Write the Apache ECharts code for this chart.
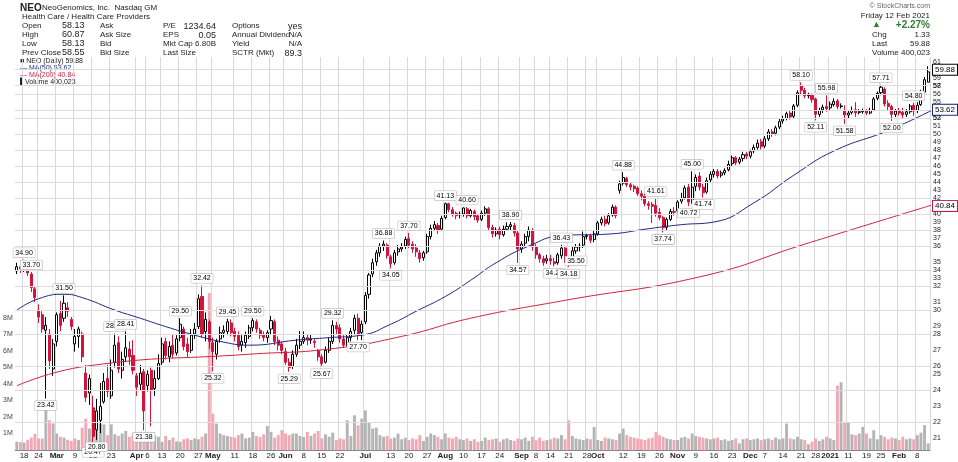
<!DOCTYPE html>
<html>
<head>
<meta charset="utf-8">
<script src="https://cdn.jsdelivr.net/npm/echarts@6/dist/echarts.min.js"></script>
<style>
  html, body { margin: 0; padding: 0; background: #fff; }
  #chart { width: 958px; height: 462px; }
</style>
</head>
<body>
<div id="chart"></div>
<script>
// daily candles [open, close, low, high], 13 Feb 2020 .. 12 Feb 2021
const candles = [
  [33.8,34.2,33.5,34.6],[34.2,34.0,33.6,34.5],[34.0,34.4,33.7,34.9],[34.4,33.6,33.3,34.6],[33.5,32.2,31.8,33.7],
  [32.1,31.3,30.9,32.3],[30.2,29.6,29.1,30.7],[29.8,28.6,28.3,30.1],[28.5,28.9,23.42,29.6],[28.2,26.1,25.5,28.6],[25.5,27.4,25.0,27.8],
  [27.6,29.8,27.2,30.0],[29.9,28.9,28.4,31.0],[29.5,30.8,29.2,31.5],[30.4,30.1,29.6,30.9],[29.4,28.8,28.5,29.6],
  [27.4,28.0,26.8,28.6],[28.0,28.6,27.1,28.8],[28.2,26.4,26.0,28.4],[25.2,23.5,23.2,25.8],[23.8,24.8,23.0,25.1],
  [22.8,21.0,20.47,23.6],[21.4,22.6,20.8,23.4],[22.0,22.9,21.2,24.5],[23.2,24.6,23.08,25.2],[24.8,23.9,23.5,25.8],
  [23.6,25.4,23.4,26.2],[26.0,27.3,25.6,28.23],[27.5,25.5,25.2,28.0],[25.4,26.2,24.8,26.8],[26.4,27.1,26.0,28.41],
  [27.0,26.4,25.8,27.6],[26.5,25.4,25.1,27.7],[25.0,24.2,23.6,25.2],[24.4,25.2,24.0,25.8],[25.3,22.6,21.38,25.5],
  [24.3,25.1,23.9,25.4],[25.4,24.0,21.62,25.6],[24.1,24.8,23.6,25.4],[24.8,25.9,24.7,26.6],
  [26.0,27.4,25.8,27.9],[27.6,26.5,26.2,27.9],[26.4,27.2,26.0,27.6],[27.3,26.6,26.3,28.2],[26.7,27.8,26.5,28.1],
  [27.9,29.0,27.6,29.50],[28.6,27.2,26.9,28.8],[27.4,26.8,26.4,27.9],[26.9,28.1,26.7,28.6],[28.2,28.6,27.8,29.1],
  [28.8,31.2,28.6,31.6],[31.4,28.2,27.9,32.42],[28.4,29.4,27.6,30.0],[29.2,27.6,27.0,29.4],[27.5,26.8,25.32,27.9],
  [26.6,27.6,26.2,27.8],[27.8,28.3,27.5,28.8],[28.3,28.5,27.9,28.9],[28.4,29.2,28.1,29.45],[29.1,28.3,28.0,29.4],
  [28.4,28.0,27.6,28.7],[28.1,27.2,26.9,28.4],[27.3,27.6,26.8,28.1],[27.5,28.1,27.1,28.4],[28.0,28.7,27.8,28.94],
  [28.7,29.3,28.4,29.5],[29.2,28.6,28.3,29.4],[28.5,28.1,27.8,28.7],[28.1,27.9,27.6,28.4],[27.9,28.3,27.5,28.5],
  [28.6,29.3,28.2,29.7],[29.2,27.6,27.3,29.4],[27.7,27.3,26.9,28.0],[27.4,26.9,26.6,27.6],
  [26.8,26.0,25.8,27.1],[26.0,25.6,25.29,26.3],[25.7,26.6,25.5,26.9],[26.6,27.3,26.4,27.8],[27.3,27.6,27.0,28.44],
  [27.6,27.9,27.4,28.4],[27.9,27.7,27.3,28.2],[27.7,27.8,27.4,28.1],[27.6,27.5,27.1,27.8],[26.9,26.4,26.1,27.0],
  [26.4,25.9,25.67,26.6],[26.0,26.9,25.9,27.2],[26.9,27.6,26.7,27.9],[27.6,28.9,27.4,29.32],[28.9,28.6,28.2,29.2],
  [28.7,27.8,27.5,29.0],[27.8,27.3,27.1,28.1],[27.3,27.9,27.2,28.2],[27.9,28.4,27.6,28.7],[28.5,29.5,28.2,29.8],
  [29.5,28.2,27.7,29.9],[28.3,29.0,27.71,29.3],
  [29.2,31.5,29.0,31.8],[31.6,33.4,31.2,33.6],
  [33.5,34.6,33.2,35.0],[34.7,35.6,34.3,35.9],[35.6,36.3,35.2,36.6],[36.3,36.5,35.8,36.88],[36.4,35.3,35.0,36.6],
  [35.2,34.5,34.05,35.4],[34.6,35.6,34.4,35.9],[35.7,36.0,35.3,36.4],[36.0,36.2,35.7,36.6],[36.3,37.0,36.0,37.3],
  [37.1,36.4,36.1,37.70],[36.5,36.0,35.6,36.8],[36.1,35.7,35.2,36.5],[35.6,35.0,34.6,35.9],[35.1,35.6,34.8,35.8],
  [35.7,37.3,35.5,37.6],[37.3,38.2,37.0,38.6],[38.2,38.6,37.9,39.0],[38.5,38.0,37.6,38.8],[38.1,39.3,37.9,39.6],
  [39.4,41.0,39.2,41.13],[41.0,40.3,40.0,41.1],[40.3,39.8,39.5,40.6],[39.9,39.6,39.2,40.1],[39.7,39.8,39.3,40.1],
  [39.8,40.5,39.5,40.56],[40.4,39.6,39.3,40.6],[39.6,40.2,39.4,40.4],[40.1,39.5,39.1,40.3],[39.6,39.1,38.8,39.8],
  [39.2,39.9,39.0,40.2],[39.9,40.4,39.6,40.7],[40.4,38.3,37.9,40.6],[38.3,37.6,37.2,38.6],[37.6,38.0,37.3,38.3],
  [38.1,37.5,37.0,38.4],[37.5,38.1,37.3,38.5],[38.1,38.4,37.9,38.85],[38.4,38.6,38.0,38.9],[38.5,37.7,37.3,38.8],
  [37.7,36.0,34.57,37.9],[36.0,36.5,35.6,36.8],[36.6,37.3,36.2,37.6],[37.3,38.0,36.8,38.4],
  [38.0,36.2,35.8,38.2],[36.2,35.4,35.0,36.5],[35.4,35.0,34.6,35.6],[35.0,34.6,34.3,35.3],
  [34.8,35.0,34.5,35.4],[35.0,34.8,34.4,35.4],[34.7,34.5,34.25,35.1],[34.6,35.4,34.4,35.6],[35.3,36.1,35.0,36.43],
  [36.1,35.0,34.6,36.3],[35.0,34.6,34.18,35.2],[34.6,35.8,34.4,36.2],[35.8,36.2,35.5,36.5],[36.2,36.3,35.74,36.6],
  [36.4,37.3,36.1,37.85],[37.3,37.4,37.0,37.6],[37.4,36.9,36.6,37.6],[37.0,37.6,36.7,37.9],[37.6,38.8,37.4,39.0],
  [38.8,39.2,38.5,39.5],[39.2,38.7,38.4,39.6],[38.8,39.6,38.6,39.9],[39.7,40.6,39.5,40.9],[40.6,39.6,39.3,40.8],
  [42.6,43.4,42.2,43.8],[43.5,44.2,43.2,44.88],[44.1,43.3,43.0,44.3],[43.3,43.0,42.6,43.6],[43.1,42.8,42.4,43.3],
  [42.9,42.2,41.9,43.1],[42.2,41.9,41.4,42.6],[41.9,41.0,40.7,42.2],[41.0,40.8,40.3,41.3],[40.9,40.7,38.79,41.2],
  [40.8,39.9,39.5,41.61],[40.0,39.4,39.1,40.5],[39.4,38.3,37.74,39.6],[38.3,39.2,38.0,39.4],[39.2,40.1,39.0,40.4],
  [40.1,40.0,39.6,40.6],[40.2,41.2,40.0,41.4],[41.3,41.6,41.0,42.3],[41.7,42.9,41.5,43.2],[43.0,41.2,40.72,43.4],
  [41.3,43.0,41.0,45.0],[43.1,44.2,42.5,44.6],[44.4,43.0,42.6,44.9],[43.0,42.3,41.74,43.4],[42.4,43.8,42.2,44.2],
  [43.9,44.6,43.6,45.0],[44.6,45.0,44.2,45.3],[45.0,44.4,44.1,45.3],[44.5,44.8,44.2,45.1],[44.8,45.1,44.5,45.4],
  [45.2,45.9,45.0,46.4],[46.0,46.8,45.7,47.1],[46.8,46.1,45.8,47.0],[46.2,46.6,45.9,46.9],
  [46.7,47.2,46.3,47.6],[47.3,47.0,46.6,47.6],[47.0,47.6,46.7,47.9],[47.7,48.2,47.4,48.6],[48.2,48.8,47.9,49.3],
  [49.0,48.3,47.9,49.4],[48.4,49.4,48.1,49.8],[49.4,50.4,49.1,50.8],[50.4,50.1,49.7,50.8],[50.2,51.0,49.9,51.3],
  [51.1,51.9,50.8,52.3],[52.0,52.3,51.6,52.8],[52.4,53.1,52.1,53.4],[53.2,52.6,52.2,53.6],[52.7,54.3,52.4,54.6],
  [54.4,56.4,54.1,56.8],[57.6,56.8,56.0,58.10],[56.8,55.9,55.5,57.2],[55.9,56.0,55.5,56.4],
  [56.0,55.3,54.8,56.3],[55.4,53.0,52.11,55.6],[53.0,53.6,52.6,54.0],[53.7,54.1,53.2,54.5],
  [54.2,53.9,53.4,55.98],[54.0,54.6,53.7,55.0],[54.5,55.0,54.2,55.5],[55.1,54.2,53.8,55.4],[54.2,54.3,53.9,54.7],
  [53.5,52.9,51.58,54.4],[52.9,53.2,52.4,53.6],[53.3,53.6,53.0,54.2],[53.7,53.2,52.6,54.9],[53.3,53.4,53.0,53.8],
  [53.4,53.6,53.1,53.9],[53.6,53.2,52.9,53.8],[53.2,53.6,53.0,54.0],[53.7,55.4,53.5,55.7],
  [55.5,56.3,55.2,56.6],[56.4,57.3,56.0,57.71],[57.0,54.6,54.2,57.3],[54.7,54.2,53.6,55.2],[54.2,53.0,52.00,54.5],
  [53.0,53.5,52.6,53.8],[53.6,53.2,52.8,54.0],[53.3,52.9,52.4,54.00],[53.0,53.4,52.6,53.8],[53.4,54.3,53.1,54.6],
  [54.4,53.5,52.8,54.8],[53.6,54.4,53.2,54.9],[54.5,56.5,54.3,56.9],[56.5,58.55,56.2,59.0],[58.13,59.88,58.13,60.87]
];

// daily volume, thousands of shares
const volumes = [
  500,480,450,620,750,980,700,700,2600,1800,1600,
  1000,800,750,620,550, 700,600,1350,1900,1300, 2400,1700,1600,1550,900,
  1550,950,850,1000,1150, 800,900,600,850,650, 700,900,880,800,
  500,850,600,750,520, 500,650,700,600,700, 650,800,1000,9500,2200,
  1600,1000,900,850,800, 750,900,1000,700,750, 1100,850,800,950,1450, 1100,750,900,1200,
  1000,900,1000,1000,850, 780,1100,850,1000,1150, 700,950,800,1050,600,
  700,650,1800,850,2100, 1500,1900, 2400,1700,
  1300,1350,900,800,850, 700,750,1000,650,750, 600,700,650,900,550, 800,1000,900,800,650,
  1000,750,700,800,650, 600,700,550,650,500, 550,750,600,650,700, 500,650,700,600,550,
  700,650,750,550, 800,600,750,550, 600,650,750,700,900, 650,1800,850,700,650,
  600,700,650,1400,600, 550,750,700,650,600, 1000,1300,900,800,750, 700,650,600,700,750,
  1100,900,800,700,650, 600,600,750,800,700, 1000,850,800,750,700, 650,700,750,600,650,
  550,600,700,400, 650,700,600,650,700, 600,650,700,600,750, 650,700,1600,700,650,
  800,650,600,350, 500,700,550,650,
  800,700,600,3900,4100, 1700,1700,950,900,1000, 1400,1000,700,1200, 650,900,800,650,750,
  700,600,800,650,700, 650,900,1050,1500,400
];

// moving averages: [day index, price]
const ma50Pts = [[0,30.2],[6,31.2],[13,31.6],[18,31.3],[27,30.2],[34,29.5],[41,28.8],[49,28.1],[56,27.6],
  [64,27.3],[77,27.7],[86,27.9],[95,28.1],[103,29.0],[110,30.1],[118,31.4],[125,32.9],[132,34.6],[141,36.3],
  [150,37.4],[164,37.6],[173,38.1],[183,38.6],[192,38.9],[203,41.1],[214,44.5],[225,47.7],[240,50.6],[252,53.62]];
const ma200Pts = [[0,24.3],[19,25.7],[64,26.6],[86,27.0],[106,28.0],[125,29.5],[150,31.0],[189,33.3],[217,36.5],[252,40.84]];

// annotated highs/lows near a day: [day index, 'h' | 'l']
const notes = [[1,'h'],[6,'h'],[13,'h'],[8,'l'],[21,'l'],[24,'l'],[27,'h'],[30,'h'],[35,'l'],[37,'l'],
  [45,'h'],[51,'h'],[54,'l'],[58,'h'],[64,'h'],[75,'l'],[84,'l'],[87,'h'],[95,'l'],[101,'h'],[103,'l'],
  [108,'h'],[118,'h'],[123,'h'],[135,'h'],[139,'l'],[149,'l'],[151,'h'],[153,'l'],[156,'l'],[168,'h'],
  [176,'l'],[177,'h'],[179,'l'],[186,'l'],[187,'h'],[190,'l'],[217,'h'],[221,'l'],[224,'h'],[229,'l'],
  [239,'h'],[242,'l'],[245,'h']];

const priceTicks = [];
for (let p = 21; p <= 61; p++) priceTicks.push(p);
const volTicks = [1,2,3,4,5,6,7,8];

// trading days
const holidays = ['2020-02-17','2020-04-10','2020-05-25','2020-07-03','2020-09-07','2020-11-26','2020-12-25','2021-01-01','2021-01-18'];
const days = [];
for (let d = new Date(Date.UTC(2020,1,13)); days.length < candles.length; d.setUTCDate(d.getUTCDate()+1)) {
  const wd = d.getUTCDay();
  const s = d.toISOString().slice(0,10);
  if (wd === 0 || wd === 6 || holidays.includes(s)) continue;
  days.push(new Date(d.getTime()));
}
const dates = days.map(d => d.toISOString().slice(0,10));
const MON = ['Jan','Feb','Mar','Apr','May','Jun','Jul','Aug','Sep','Oct','Nov','Dec'];

const monthStarts = [], weekStarts = [];
days.forEach((d, i) => {
  if (i === 0) return;
  const p = days[i-1];
  if (d.getUTCMonth() !== p.getUTCMonth()) monthStarts.push(i);
  else if (d.getUTCDay() < p.getUTCDay()) weekStarts.push(i);
});
const labelMap = {};
monthStarts.forEach(i => { const m = days[i].getUTCMonth(); labelMap[i] = '{b|' + (m === 0 ? days[i].getUTCFullYear() : MON[m]) + '}'; });
weekStarts.forEach(i => {
  if (monthStarts.every(m => Math.abs(m - i) >= 3)) labelMap[i] = String(days[i].getUTCDate());
});

const L = Math.log10;
const candleData = candles.map(c => c.map(L));
const volData = volumes.map((v, i) => ({
  value: v * 1000,
  itemStyle: { color: (i > 0 && candles[i][1] < candles[i-1][1]) ? '#f0a8b4' : '#b4b4b4' }
}));

// pick the extreme within +-2 days of the noted day
function extreme(i, k) {
  let best = i;
  for (let j = Math.max(0, i - 2); j <= Math.min(candles.length - 1, i + 2); j++) {
    if (k === 'h' ? candles[j][3] > candles[best][3] : candles[j][2] < candles[best][2]) best = j;
  }
  return best;
}

const tickLines = priceTicks.map(p => ({
  yAxis: L(p),
  lineStyle: { color: p % 2 === 0 ? '#dcdcdc' : 'rgba(0,0,0,0)', type: 'solid', width: 1 },
  label: { formatter: String(p) }
}));
const boxLine = (v, col) => ({
  yAxis: L(v), lineStyle: { color: 'rgba(0,0,0,0)' },
  label: { formatter: v.toFixed(2), backgroundColor: '#fff', borderColor: col, borderWidth: 1, padding: [1,2], color: '#000', fontSize: 8 }
});

const chart = echarts.init(document.getElementById('chart'));
const F = 'Liberation Sans';
const t = (x, y, text, o) => ({ type: 'text', left: x, top: y, style: Object.assign({ text, font: '8px "' + F + '"', fill: '#222' }, o || {}) });
const tr = (x, y, text, o) => ({ type: 'text', x, y, style: Object.assign({ text, font: '8px "' + F + '"', fill: '#222', align: 'right' }, o || {}) });

chart.setOption({
  animation: false,
  textStyle: { fontFamily: F },
  grid: { left: 15, right: 28, top: 57, bottom: 12 },
  xAxis: {
    type: 'category', data: dates, boundaryGap: true,
    axisLine: { lineStyle: { color: '#888' } },
    axisTick: { show: false },
    axisLabel: {
      interval: i => labelMap[i] !== undefined, formatter: (v, i) => labelMap[i],
      fontSize: 8, color: '#222', margin: 2, hideOverlap: false,
      rich: { b: { fontSize: 8, fontWeight: 'bold', color: '#222' } }
    },
    splitLine: { show: true, interval: i => labelMap[i] !== undefined, lineStyle: { color: '#d8d8d8' } }
  },
  yAxis: [
    { type: 'value', min: L(20.2), max: L(62.5), show: false, splitLine: { show: false } },
    { type: 'value', min: 0, max: 23.8e6, position: 'left', interval: 1e6,
      axisLine: { show: false }, axisTick: { show: false }, splitLine: { show: false },
      axisLabel: { inside: true, fontSize: 7, color: '#444', margin: -12,
        formatter: v => volTicks.includes(Math.round(v / 1e6)) ? Math.round(v / 1e6) + 'M' : '' } }
  ],
  series: [
    { type: 'bar', yAxisIndex: 1, data: volData, barWidth: '80%', silent: true },
    { type: 'candlestick', yAxisIndex: 0, data: candleData, barWidth: '70%',
      itemStyle: { color: '#ffffff', borderColor: '#000', color0: '#d2143c', borderColor0: '#d2143c', borderWidth: 1 },
      markLine: { silent: true, symbol: 'none', animation: false,
        label: { position: 'end', fontSize: 7, color: '#222', distance: 3 },
        data: tickLines.concat([boxLine(59.88, '#000'), boxLine(53.62, '#1a237e'), boxLine(40.84, '#c2185b')]) },
      markPoint: { symbol: 'rect', symbolSize: 1, itemStyle: { color: 'rgba(0,0,0,0)' },
        data: notes.map(([n, k]) => {
          const i = extreme(n, k);
          const v = k === 'h' ? candles[i][3] : candles[i][2];
          return { coord: [i, L(v)], label: { show: true, formatter: v.toFixed(2), fontSize: 7, color: '#000',
            backgroundColor: '#fff', borderColor: '#aaa', borderWidth: 0.5, padding: [1,2],
            offset: [0, k === 'h' ? -7 : 7] } };
        }) } },
    { type: 'line', yAxisIndex: 0, data: ma50Pts.map(([i, v]) => [i, L(v)]), smooth: true, symbol: 'none',
      lineStyle: { color: '#1f2a80', width: 1 }, z: 3 },
    { type: 'line', yAxisIndex: 0, data: ma200Pts.map(([i, v]) => [i, L(v)]), smooth: true, symbol: 'none',
      lineStyle: { color: '#d0243e', width: 1 }, z: 3 }
  ],
  graphic: [
    t(20, 3, 'NEO', { font: 'bold 10px "' + F + '"' }),
    t(42, 4, 'NeoGenomics, Inc.  Nasdaq GM'),
    t(22, 13, 'Health Care / Health Care Providers'),
    t(22, 22, 'Open'), t(62, 21, '58.13', { font: '9px "' + F + '"' }),
    t(22, 31, 'High'), t(62, 30, '60.87', { font: '9px "' + F + '"' }),
    t(22, 40, 'Low'), t(62, 39, '58.13', { font: '9px "' + F + '"' }),
    t(22, 49, 'Prev Close'), t(62, 48, '58.55', { font: '9px "' + F + '"' }),
    t(100, 22, 'Ask'), t(100, 31, 'Ask Size'), t(100, 40, 'Bid'), t(100, 49, 'Bid Size'),
    t(163, 22, 'P/E'), tr(216, 22, '1234.64', { font: '9px "' + F + '"' }),
    t(163, 31, 'EPS'), tr(216, 31, '0.05', { font: '9px "' + F + '"' }),
    t(163, 40, 'Mkt Cap'), tr(216, 40, '6.80B'),
    t(163, 49, 'Last Size'),
    t(232, 22, 'Options'), tr(302, 22, 'yes', { font: '9px "' + F + '"' }),
    t(232, 31, 'Annual Dividend'), tr(302, 31, 'N/A'),
    t(232, 40, 'Yield'), tr(302, 40, 'N/A'),
    t(232, 49, 'SCTR (Mkt)'), tr(302, 49, '89.3', { font: '9px "' + F + '"' }),
    t(20, 58, '■ NEO (Daily) 59.88', { font: '7px "' + F + '"' }),
    t(20, 65, '— MA(50) 53.62', { font: '7px "' + F + '"', fill: '#1f2a80' }),
    t(20, 72, '— MA(200) 40.84', { font: '7px "' + F + '"', fill: '#d0243e' }),
    t(20, 79, '▌Volume 400,023', { font: '7px "' + F + '"' }),
    tr(930, 3, '© StockCharts.com', { font: '7px "' + F + '"', fill: '#666' }),
    tr(930, 12, 'Friday 12 Feb 2021'),
    t(872, 20, '▲', { fill: '#2e7d32', font: '9px "' + F + '"' }),
    tr(930, 20, '+2.27%', { fill: '#2e7d32', font: 'bold 10px "' + F + '"' }),
    t(872, 31, 'Chg'), tr(930, 31, '1.33'),
    t(872, 40, 'Last'), tr(930, 40, '59.88'),
    t(872, 49, 'Volume'), tr(930, 49, '400,023')
  ]
});
</script>
</body>
</html>
